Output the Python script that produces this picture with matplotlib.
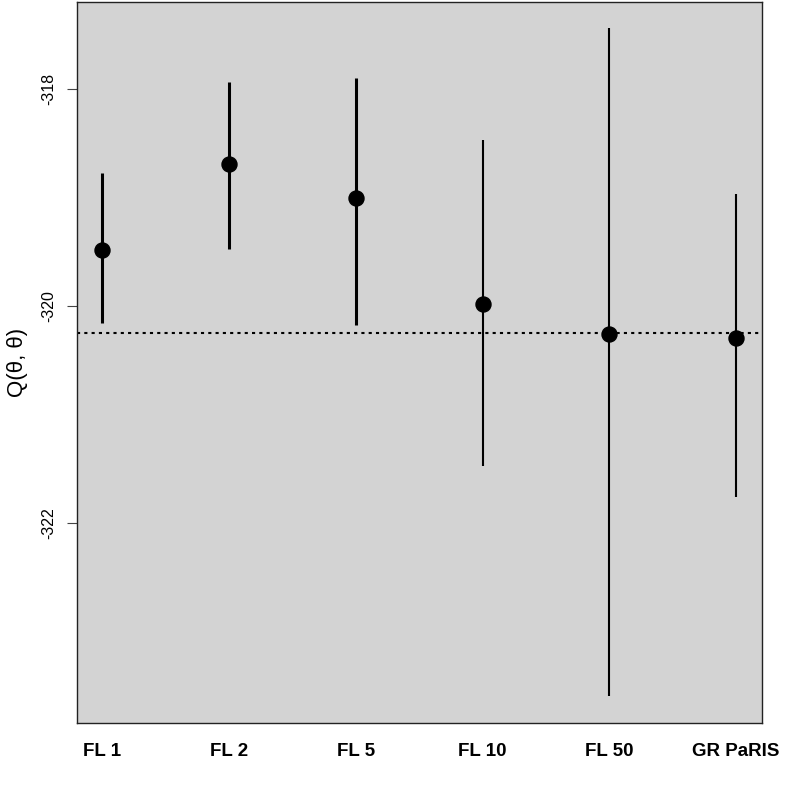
import matplotlib.pyplot as plt

plt.rcParams['font.family'] = ['Liberation Sans', 'DejaVu Sans']

# methods and the estimates
labels = ['FL 1', 'FL 2', 'FL 5', 'FL 10', 'FL 50', 'GR PaRIS']
means = [-319.485, -318.692, -319.004, -319.987, -320.258, -320.292]
lower = [-320.156, -319.478, -320.174, -321.477, -323.597, -321.763]
upper = [-318.779, -317.935, -317.905, -318.470, -317.445, -318.966]
ref_value = -320.252

bar_widths = [2.2, 2.2, 2.2, 1.5, 1.5, 1.5]

fig = plt.figure(figsize=(8, 8), dpi=100)
ax = fig.add_axes([0.0959, 0.096, 0.856, 0.902])
ax.set_facecolor('#d3d3d3')

x = list(range(1, len(labels) + 1))
for xi, lo, hi, lw in zip(x, lower, upper, bar_widths):
    ax.vlines(xi, lo, hi, color='black', lw=lw, zorder=2)
ax.plot(x, means, 'o', color='black', ms=10.8, zorder=3)
ax.axhline(ref_value, color='black', lw=1.5, linestyle=(0, (1.5, 2.0)), zorder=1)

# R style 4% padding
ymin, ymax = min(lower), max(upper)
pad = 0.04 * (ymax - ymin)
ax.set_ylim(ymin - pad, ymax + pad)
ax.set_xlim(0.8, len(labels) + 0.2)

ax.set_xticks(x)
ax.set_xticklabels(labels, fontsize=13.5, fontweight='bold')
ax.tick_params(axis='x', length=0, pad=14)
ax.set_yticks([-322, -320, -318])
ax.set_yticklabels(['-322', '-320', '-318'], fontsize=11.5, rotation=90, va='center')
ax.tick_params(axis='y', length=7, width=0.8, color='#444444', pad=8)

fig.text(17 / 800, 1 - 362 / 800, 'Q(θ, θ)', fontsize=16, rotation=90,
         ha='center', va='center')

for s in ax.spines.values():
    s.set_linewidth(1.0)
    s.set_color('#222222')

fig.savefig('out.png', dpi=100)
